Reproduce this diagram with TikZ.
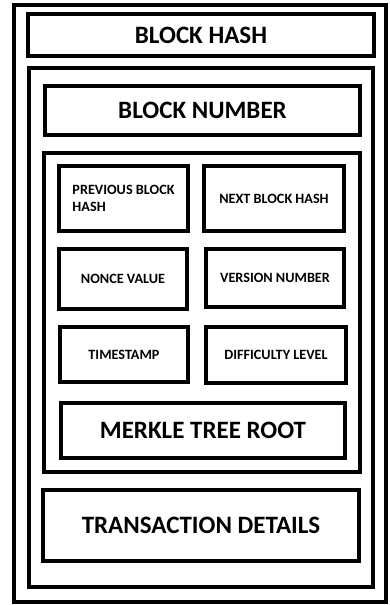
\documentclass[tikz,border=0pt]{standalone}
\usepackage{fontspec}
\setmainfont{Carlito}
\usepackage{tikz}

\begin{document}
\begin{tikzpicture}[
          x=1pt, y=-1pt,
          box/.style={draw, line width=3.4pt, inner sep=0pt, align=left},
          bigbox/.style={box, font=\fontsize{25}{28}\selectfont\bfseries},
          smallbox/.style={box, font=\fontsize{14.2}{17}\selectfont\bfseries}
      ]
        \useasboundingbox (0,0) rectangle (389,605);

        \node[box, minimum width=372pt, minimum height=597pt] (frame) at (200,303.5) {};
        \node[bigbox, minimum width=346pt, minimum height=42pt] (hash) at (201,35) {BLOCK HASH};
        \node[box, minimum width=344pt, minimum height=519pt] (body) at (201,327.5) {};
        \node[bigbox, minimum width=315pt, minimum height=49pt] (number) at (202.5,110.5) {BLOCK NUMBER};
        \node[box, minimum width=316pt, minimum height=319pt] (header) at (202,312.5) {};

        \foreach \name/\cx/\cy/\w/\h/\txt in {
            prev/123.5/198.5/129/65/{PREVIOUS BLOCK\\HASH},
            next/274/198.5/140/65/{NEXT BLOCK HASH},
            nonce/123/279/128/60/{NONCE VALUE},
            version/275/278/138/58/{VERSION NUMBER},
            time/124/354.5/128/55/{TIMESTAMP},
            diff/276/355/140/56/{DIFFICULTY LEVEL}} {
          \node[smallbox, minimum width=\w pt, minimum height=\h pt] (\name) at (\cx,\cy) {\txt};
        }

        \node[bigbox, minimum width=284pt, minimum height=55pt] (merkle) at (203,430.5) {MERKLE TREE ROOT};
        \node[bigbox, minimum width=316pt, minimum height=71pt] (tx) at (201,525.5) {TRANSACTION DETAILS};
      \end{tikzpicture}
\end{document}
